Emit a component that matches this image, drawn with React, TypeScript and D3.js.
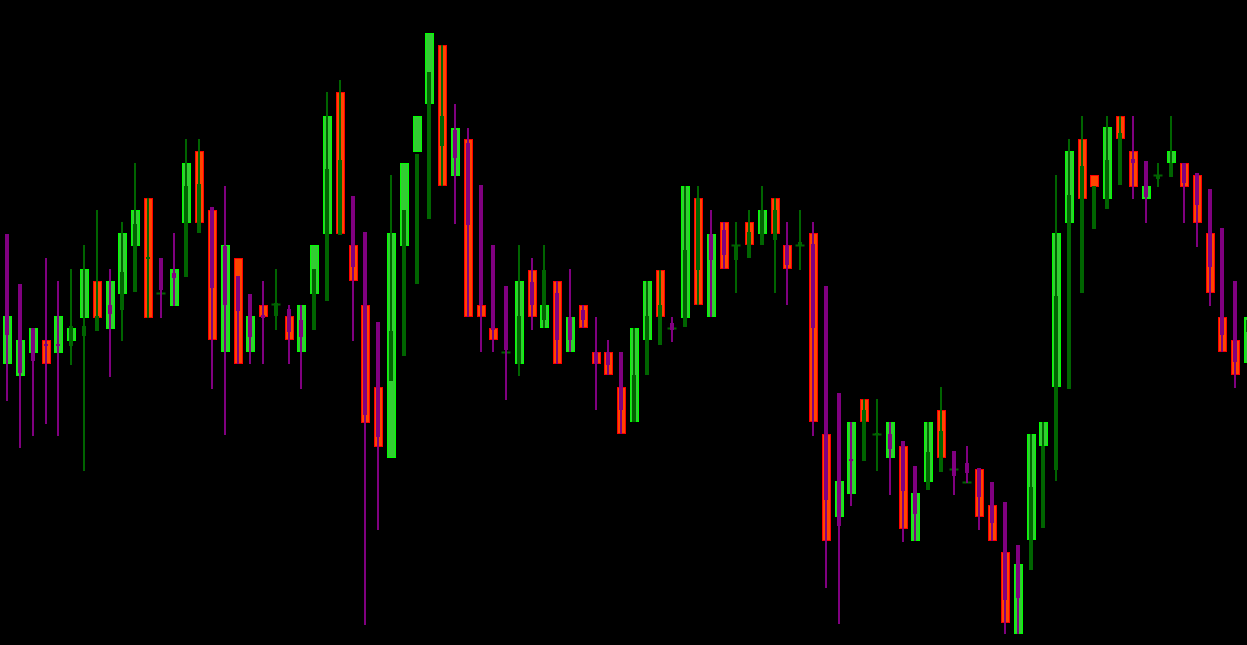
import React, { useEffect, useRef } from 'react';
import * as d3 from 'd3';

// main candles (bodies only)
const mainOpen = [281, 269, 292, 305, 292, 304, 327, 364, 316, 351, 399, 447, 352, 339, 422, 494, 435, 293, 387, 293,
  340, 341, 329, 293, 351, 411, 553, 400, 340, 258, 187, 399, 493, 541, 600, 469, 506, 340, 317, 293,
  281, 375, 317, 364, 293, 340, 293, 293, 258, 223, 305, 375, 317, 327, 447, 328, 423, 400, 423, 411,
  447, 400, 400, 412, 211, 128, 151, 246, 211, 187, 199, 104, 163, 235, 176, 163, 176, 140, 93, 11,
  105, 199, 258, 422, 506, 470, 446, 529, 494, 446, 470, 482, 482, 470, 412, 328, 305, 282];
const mainClose = [329, 305, 317, 281, 329, 317, 376, 327, 364, 412, 435, 327, 352, 376, 482, 422, 305, 400, 281, 329,
  328, 341, 305, 340, 400, 529, 411, 364, 222, 198, 412, 482, 529, 612, 459, 517, 328, 328, 305, 293,
  364, 328, 340, 281, 328, 317, 281, 270, 211, 317, 364, 328, 317, 459, 340, 411, 376, 400, 400, 435,
  411, 376, 400, 223, 104, 164, 223, 223, 211, 223, 116, 152, 223, 187, 176, 163, 128, 104, 22, 81,
  211, 223, 412, 494, 446, 458, 518, 506, 458, 459, 470, 494, 458, 422, 352, 293, 270, 328];

// overlay candles
const ovOpen = [411, 361, 317, 301, 301, 299, 309, 314, 340, 335, 353, 386, 387, 372, 368, 412, 438, 399, 369, 351,
  330, 329, 336, 325, 315, 344, 410, 449, 413, 323, 264, 289, 361, 426, 499, 515, 502, 460, 400, 359,
  281, 363, 325, 352, 328, 335, 293, 293, 293, 223, 270, 300, 322, 318, 375, 411, 415, 385, 387, 400,
  405, 400, 399, 401, 359, 252, 186, 184, 210, 211, 204, 179, 155, 173, 194, 182, 177, 163, 143, 100,
  75, 117, 175, 256, 352, 416, 436, 460, 486, 484, 466, 468, 482, 472, 456, 417, 364, 313];
const ovHigh = [411, 361, 317, 387, 364, 376, 400, 435, 376, 423, 482, 447, 387, 412, 506, 506, 438, 459, 369, 351,
  364, 376, 340, 340, 376, 553, 565, 449, 413, 323, 470, 435, 491, 573, 600, 541, 517, 460, 400, 359,
  400, 387, 400, 364, 376, 340, 328, 305, 293, 317, 364, 375, 328, 459, 459, 435, 423, 423, 435, 459,
  447, 423, 435, 423, 359, 252, 223, 246, 246, 223, 204, 179, 223, 258, 194, 199, 177, 163, 143, 100,
  211, 223, 470, 506, 529, 459, 529, 529, 529, 484, 482, 529, 482, 472, 456, 417, 364, 335];
const ovLow = [244, 197, 209, 221, 209, 280, 174, 314, 268, 304, 353, 327, 327, 339, 368, 412, 256, 210, 281, 281,
  281, 315, 281, 256, 315, 344, 410, 304, 20, 115, 264, 289, 361, 426, 459, 421, 328, 293, 293, 245,
  269, 315, 317, 281, 293, 317, 235, 270, 211, 223, 270, 300, 303, 318, 340, 328, 376, 352, 387, 400,
  352, 340, 375, 209, 57, 21, 139, 184, 174, 150, 103, 104, 155, 173, 150, 162, 115, 104, 11, 11,
  75, 117, 164, 256, 352, 416, 436, 460, 446, 422, 458, 468, 422, 398, 339, 293, 257, 305];
const ovClose = [310, 272, 284, 299, 299, 319, 319, 329, 331, 373, 421, 388, 355, 367, 459, 461, 357, 340, 334, 308,
  327, 342, 313, 308, 376, 476, 485, 378, 230, 208, 314, 435, 491, 573, 529, 487, 420, 340, 315, 295,
  329, 340, 375, 305, 305, 325, 281, 280, 235, 270, 329, 340, 315, 395, 447, 385, 390, 400, 413, 435,
  435, 380, 403, 317, 145, 119, 184, 235, 212, 196, 154, 131, 193, 214, 169, 172, 148, 122, 45, 47,
  158, 199, 349, 450, 479, 459, 485, 512, 482, 448, 470, 482, 462, 440, 378, 310, 283, 325];

const W = 1247;
const H = 645;

export default function App() {
  const ref = useRef<SVGSVGElement>(null);

  useEffect(() => {
    document.body.style.margin = '0';
    document.body.style.background = '#000';
    const svg = d3.select(ref.current);
    svg.selectAll('*').remove();

    const idx = d3.range(mainOpen.length);
    const x = d3.scaleLinear().domain([0, 96]).range([7.3, 7.3 + 12.79 * 96]);
    const y = d3.scaleLinear().domain([0, 645]).range([H, 0]);
    const px = (i: number) => Math.round(x(i));

    svg.append('rect').attr('width', W).attr('height', H).attr('fill', '#000');

    // bodies of main series
    const bodies = idx.filter(i => mainOpen[i] !== mainClose[i]);
    svg.append('g').selectAll('rect')
      .data(bodies)
      .join('rect')
      .attr('x', i => px(i) - 4 + 0.5)
      .attr('y', i => Math.round(y(Math.max(mainOpen[i], mainClose[i]))) + 0.5)
      .attr('width', 8)
      .attr('height', i => Math.max(1, Math.round(Math.abs(y(mainOpen[i]) - y(mainClose[i]))) - 1))
      .attr('fill', i => mainClose[i] > mainOpen[i] ? '#32cd32' : '#ff4500')
      .attr('stroke', i => mainClose[i] > mainOpen[i] ? '#00ff00' : '#ff0000')
      .attr('stroke-width', 1);

    const dojis = idx.filter(i => mainOpen[i] === mainClose[i]);
    svg.append('g').selectAll('line')
      .data(dojis)
      .join('line')
      .attr('x1', i => px(i) - 4.5)
      .attr('x2', i => px(i) + 4.5)
      .attr('y1', i => Math.round(y(mainOpen[i])) + 0.5)
      .attr('y2', i => Math.round(y(mainOpen[i])) + 0.5)
      .attr('stroke', '#006400')
      .attr('stroke-width', 2);

    // overlay series on top
    const ovColor = (i: number) => ovClose[i] >= ovOpen[i] ? '#006400' : '#800080';
    const ov = svg.append('g');
    ov.selectAll('.wick')
      .data(idx)
      .join('rect')
      .attr('class', 'wick')
      .attr('x', i => px(i) - 1)
      .attr('y', i => Math.round(y(ovHigh[i])))
      .attr('width', 2)
      .attr('height', i => Math.max(1, Math.round(y(ovLow[i]) - y(ovHigh[i]))))
      .attr('fill', ovColor);
    ov.selectAll('.obody')
      .data(idx)
      .join('rect')
      .attr('class', 'obody')
      .attr('x', i => px(i) - 2)
      .attr('y', i => Math.round(y(Math.max(ovOpen[i], ovClose[i]))))
      .attr('width', 4)
      .attr('height', i => Math.max(2, Math.round(Math.abs(y(ovOpen[i]) - y(ovClose[i])))))
      .attr('fill', ovColor);
  }, []);

  return <svg ref={ref} width={W} height={H} style={{ display: 'block' }} />;
}
